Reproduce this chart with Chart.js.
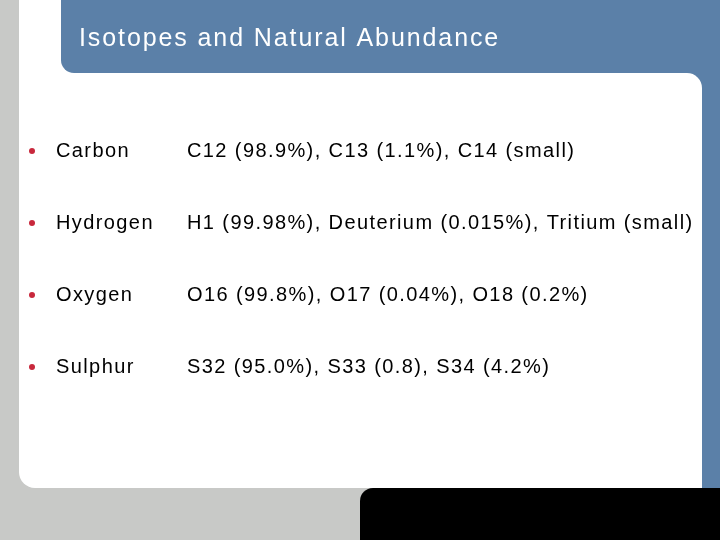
<!DOCTYPE html>
<html><head><meta charset="utf-8">
<script src="https://cdn.jsdelivr.net/npm/chart.js@4"></script>
<style>html,body{margin:0;padding:0;background:#c8c9c7}canvas{display:block}</style>
</head><body>
<canvas id="c" width="720" height="540"></canvas>
<script>
const title = "Isotopes and Natural Abundance";
const elements = ["Carbon", "Hydrogen", "Oxygen", "Sulphur"];
const isotopes = [
  "C12 (98.9%), C13 (1.1%), C14 (small)",
  "H1 (99.98%), Deuterium (0.015%), Tritium (small)",
  "O16 (99.8%), O17 (0.04%), O18 (0.2%)",
  "S32 (95.0%), S33 (0.8), S34 (4.2%)"
];
const slide = {
  id: 'slide',
  beforeDraw(chart) {
    const ctx = chart.ctx;
    ctx.save();
    ctx.fillStyle = '#c8c9c7'; ctx.fillRect(0, 0, 720, 540);
    ctx.fillStyle = '#ffffff'; ctx.fillRect(19, 0, 60, 90);
    ctx.fillStyle = '#5b80a8';
    ctx.beginPath(); ctx.roundRect(61, 0, 659, 73, [0, 0, 0, 13]); ctx.fill();
    ctx.fillRect(680, 0, 40, 488);
    ctx.fillStyle = '#ffffff';
    ctx.beginPath(); ctx.roundRect(19, 73, 683, 415, [0, 15, 0, 16]); ctx.fill();
    ctx.fillStyle = '#000000';
    ctx.beginPath(); ctx.roundRect(360, 488, 360, 52, [13, 0, 0, 0]); ctx.fill();
    ctx.fillStyle = '#ffffff';
    ctx.font = '25px "Liberation Sans", Arial, sans-serif';
    ctx.letterSpacing = '1.9px';
    ctx.textBaseline = 'alphabetic';
    ctx.fillText(title, 79, 46);
    ctx.restore();
  },
  afterDraw(chart) {
    const ctx = chart.ctx, y = chart.scales.y;
    ctx.save();
    ctx.textBaseline = 'middle';
    ctx.letterSpacing = '1.4px';
    elements.forEach((e, i) => {
      const py = y.getPixelForValue(i);
      ctx.fillStyle = '#c8283c';
      ctx.beginPath(); ctx.arc(32, py + 1, 3, 0, Math.PI * 2); ctx.fill();
      ctx.fillStyle = '#000000';
      ctx.font = '20px "Liberation Sans", Arial, sans-serif';
      ctx.fillText(e, 56, py + 1);
      ctx.fillText(isotopes[i], 187, py + 1);
    });
    ctx.restore();
  }
};
new Chart(document.getElementById('c'), {
  type: 'bar',
  data: { labels: elements, datasets: [{ data: elements.map(() => 0), backgroundColor: 'rgba(0,0,0,0)' }] },
  options: {
    responsive: false, animation: false, indexAxis: 'y',
    layout: { padding: { top: 114, bottom: 138, left: 0, right: 0 } },
    plugins: { legend: { display: false }, tooltip: { enabled: false } },
    scales: { y: { type: 'category', offset: true, display: false }, x: { display: false } }
  },
  plugins: [slide]
});
</script>
</body></html>
